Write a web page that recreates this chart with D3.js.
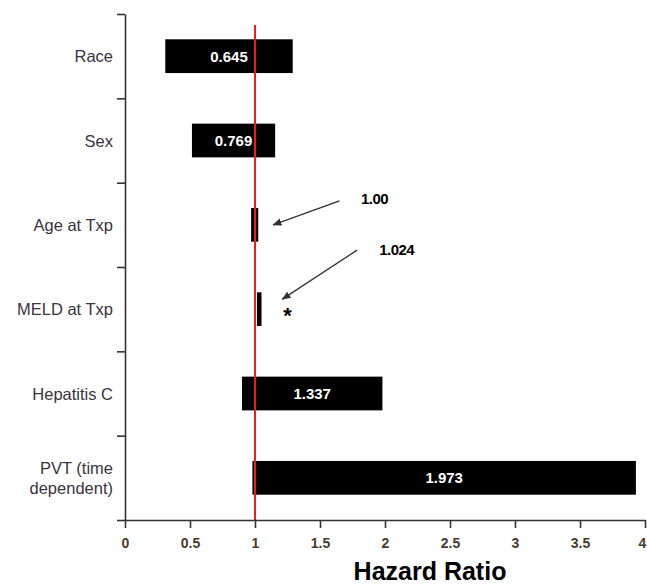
<!DOCTYPE html>
<html>
<head>
<meta charset="utf-8">
<script src="https://cdn.jsdelivr.net/npm/d3@7"></script>
<style>
  body { margin: 0; background: #fff; }
  svg { font-family: "Liberation Sans", Arial, sans-serif; }
</style>
</head>
<body>
<div id="chart"></div>
<script>
// data
const categories = ['Race', 'Sex', 'Age at Txp', 'MELD at Txp', 'Hepatitis C', 'PVT (time dependent)'];
const categoryLines = [['Race'], ['Sex'], ['Age at Txp'], ['MELD at Txp'], ['Hepatitis C'], ['PVT (time', 'dependent)']];
const hazardRatio = [0.645, 0.769, 1.00, 1.024, 1.337, 1.973];
const hrLabels = ['0.645', '0.769', '1.00', '1.024', '1.337', '1.973'];
const ciLow = [0.31, 0.515, 0.97, 1.015, 0.90, 0.98];
const ciHigh = [1.29, 1.155, 1.025, 1.05, 1.98, 3.93];
const xTicks = [0, 0.5, 1, 1.5, 2, 2.5, 3, 3.5, 4];
const significant = ['MELD at Txp'];

const W = 647, H = 586;
const MARGIN = {top: 14, left: 125, right: 2, bottom: 66};

const svg = d3.select('#chart').append('svg')
    .attr('width', W)
    .attr('height', H);

const x = d3.scaleLinear().domain([0, 4]).range([MARGIN.left, W - MARGIN.right]);
const y = d3.scaleBand().domain(categories)
    .range([MARGIN.top, H - MARGIN.bottom])
    .paddingInner(0.6)
    .paddingOuter(0.3);
const yEdge = d3.scaleLinear().domain([0, categories.length]).range([MARGIN.top, H - MARGIN.bottom]);
const yMid = c => y(c) + y.bandwidth() / 2;

const axisColor = '#333';

// bars
const rows = categories.map((c, i) => ({c, hr: hazardRatio[i], lab: hrLabels[i], lo: ciLow[i], hi: ciHigh[i]}));

svg.selectAll('.bar')
    .data(rows)
    .enter()
    .append('rect')
    .attr('class', 'bar')
    .attr('x', d => x(d.lo))
    .attr('y', d => y(d.c))
    .attr('width', d => x(d.hi) - x(d.lo))
    .attr('height', y.bandwidth())
    .attr('fill', '#000');

// reference line at HR = 1
svg.append('line')
    .attr('x1', x(1)).attr('x2', x(1))
    .attr('y1', MARGIN.top + 11).attr('y2', H - MARGIN.bottom)
    .attr('stroke', '#ee1c1c')
    .attr('stroke-width', 2);

// value labels inside wide bars
const wide = rows.filter(d => x(d.hi) - x(d.lo) > 40);
svg.selectAll('.val')
    .data(wide)
    .enter()
    .append('text')
    .attr('class', 'val')
    .attr('x', d => (x(d.lo) + x(d.hi)) / 2)
    .attr('y', d => yMid(d.c))
    .attr('dy', '0.36em')
    .attr('text-anchor', 'middle')
    .attr('fill', '#fff')
    .attr('font-weight', 'bold')
    .attr('font-size', 15)
    .text(d => d.lab);

// arrows for the narrow bars
svg.append('defs').append('marker')
    .attr('id', 'head')
    .attr('viewBox', '0 0 10 10')
    .attr('refX', 9).attr('refY', 5)
    .attr('markerWidth', 7).attr('markerHeight', 7)
    .attr('orient', 'auto')
    .append('path')
    .attr('d', 'M0,1L10,5L0,9Z')
    .attr('fill', '#333');

const narrow = rows.filter(d => x(d.hi) - x(d.lo) <= 40);
const arrowFrom = [[1.65, -24], [1.785, -59]];
const arrowTo = [[1.14, 0], [1.21, -10]];
const notePos = [[1.92, -26], [2.09, -60]];

narrow.forEach((d, i) => {
    svg.append('line')
        .attr('x1', x(arrowFrom[i][0])).attr('y1', yMid(d.c) + arrowFrom[i][1])
        .attr('x2', x(arrowTo[i][0])).attr('y2', yMid(d.c) + arrowTo[i][1])
        .attr('stroke', '#333')
        .attr('stroke-width', 1.3)
        .attr('marker-end', 'url(#head)');
    svg.append('text')
        .attr('x', x(notePos[i][0]))
        .attr('y', yMid(d.c) + notePos[i][1])
        .attr('dy', '0.36em')
        .attr('text-anchor', 'middle')
        .attr('font-weight', 'bold')
        .attr('font-size', 15)
        .attr('letter-spacing', '-0.5')
        .attr('fill', '#000')
        .text(d.lab);
    if (significant.includes(d.c)) {
        svg.append('text')
            .attr('x', x(1.25))
            .attr('y', yMid(d.c) + 14)
            .attr('text-anchor', 'middle')
            .attr('font-weight', 'bold')
            .attr('font-size', 22)
            .attr('fill', '#000')
            .text('*');
    }
});

// y axis: ticks between categories
const yAxis = svg.append('g')
    .attr('transform', `translate(${MARGIN.left},0)`)
    .call(d3.axisLeft(yEdge).ticks(categories.length).tickSize(8).tickSizeOuter(0).tickFormat(''));
yAxis.selectAll('path, line').attr('stroke', axisColor).attr('stroke-width', 1.6);

// category labels
const catText = svg.selectAll('.cat')
    .data(categories)
    .enter()
    .append('text')
    .attr('class', 'cat')
    .attr('text-anchor', 'end')
    .attr('font-size', 16.5)
    .attr('fill', '#3a3340')
    .attr('transform', (c, i) => {
        const n = categoryLines[i].length;
        return `translate(${MARGIN.left - 12},${yMid(c) - (n - 1) * 10 + 6})`;
    });
catText.selectAll('tspan')
    .data((c, i) => categoryLines[i])
    .enter()
    .append('tspan')
    .attr('x', 0)
    .attr('dy', (t, j) => j === 0 ? 0 : 20)
    .text(t => t);

// x axis
const xAxis = svg.append('g')
    .attr('transform', `translate(0,${H - MARGIN.bottom})`)
    .call(d3.axisBottom(x).tickValues(xTicks).tickSize(8).tickSizeOuter(0).tickFormat(d3.format('~g')));
xAxis.selectAll('path, line').attr('stroke', axisColor).attr('stroke-width', 1.6);
xAxis.selectAll('text')
    .attr('font-size', 14)
    .attr('font-weight', 'bold')
    .attr('fill', '#4a3a2a')
    .attr('dy', '1.2em')
    .style('font-family', '"Liberation Sans", Arial, sans-serif');
// last label sits on the right edge; nudge it in
xAxis.selectAll('.tick').filter(d => d === xTicks[xTicks.length - 1])
    .select('text').attr('dx', -3);

svg.append('text')
    .attr('x', 430)
    .attr('y', H - 6)
    .attr('text-anchor', 'middle')
    .attr('font-size', 25)
    .attr('font-weight', 'bold')
    .attr('fill', '#000')
    .text('Hazard Ratio');
</script>
</body>
</html>
